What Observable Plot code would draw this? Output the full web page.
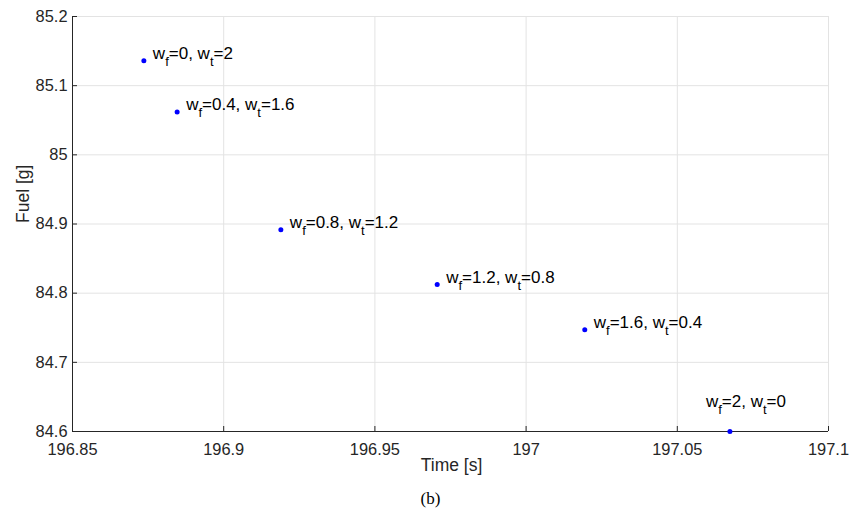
<!DOCTYPE html>
<html>
<head>
<meta charset="utf-8">
<script src="https://cdn.jsdelivr.net/npm/d3@7"></script>
<script src="https://cdn.jsdelivr.net/npm/@observablehq/plot@0.6"></script>
<style>
  html, body { margin: 0; padding: 0; background: #fff; }
  #chart { width: 862px; height: 512px; }
</style>
</head>
<body>
<div id="chart"></div>
<script>
// Data
const time = [196.8736, 196.8846, 196.9189, 196.9706, 197.0194, 197.0674];
const fuel = [85.136, 85.062, 84.8916, 84.8125, 84.747, 84.6];
const labels = ["w_f=0, w_t=2", "w_f=0.4, w_t=1.6", "w_f=0.8, w_t=1.2", "w_f=1.2, w_t=0.8", "w_f=1.6, w_t=0.4", "w_f=2, w_t=0"];
const xTicks = [196.85, 196.9, 196.95, 197, 197.05, 197.1];
const yTicks = [84.6, 84.7, 84.8, 84.9, 85, 85.1, 85.2];
const xLabel = "Time [s]";
const yLabel = "Fuel [g]";
const caption = "(b)";

const data = time.map((t, i) => ({time: t, fuel: fuel[i], label: labels[i], i}));

const axisColor = "#262626";
const gridColor = "#e3e3e3";
const fmt = d => String(+d.toFixed(2));

const plot = Plot.plot({
  width: 862,
  height: 512,
  marginLeft: 72,
  marginRight: 34,
  marginTop: 16,
  marginBottom: 81,
  style: {fontFamily: "'Liberation Sans', Arial, sans-serif", fontSize: "16px", color: axisColor, background: "#fff"},
  x: {domain: [196.85, 197.1]},
  y: {domain: [84.6, 85.2]},
  marks: [
    Plot.gridX(xTicks, {stroke: gridColor, strokeOpacity: 1}),
    Plot.gridY(yTicks, {stroke: gridColor, strokeOpacity: 1}),
    Plot.axisX(xTicks, {tickSize: 0, tickPadding: 12, tickFormat: fmt, label: null, fontSize: 16.4, fill: axisColor}),
    Plot.axisY(yTicks, {tickSize: 0, tickPadding: 5, tickFormat: fmt, label: null, fontSize: 16.4, fill: axisColor}),
    Plot.tickX(xTicks, {x: d => d, stroke: axisColor, insetTop: 410}),
    Plot.tickY(yTicks, {y: d => d, stroke: axisColor, insetRight: 751}),
    Plot.ruleX([196.85], {stroke: axisColor}),
    Plot.ruleY([84.6], {stroke: axisColor}),
    Plot.dot(data, {x: "time", y: "fuel", r: 2.5, fill: "#0000ff", stroke: null}),
    Plot.text(data.filter(d => d.i < 5), {x: "time", y: "fuel", text: "label", textAnchor: "start", dx: 9, dy: -7, fontSize: 17, fill: "#000"}),
    Plot.text(data.filter(d => d.i === 5), {x: "time", y: "fuel", text: "label", textAnchor: "start", dx: -24, dy: -30, fontSize: 17, fill: "#000"}),
    Plot.text([xLabel], {frameAnchor: "bottom", dy: 39, dx: 1, fontSize: 17.5, fill: axisColor}),
    Plot.text([yLabel], {frameAnchor: "left", dx: -49, dy: -1, rotate: -90, fontSize: 17.5, fill: axisColor}),
    Plot.text([caption], {frameAnchor: "bottom", dy: 72, dx: -20, fontSize: 17, fontFamily: "'Liberation Serif', 'Times New Roman', serif", fill: "#000"})
  ]
});

// Render "_x" as subscripts using tspans
plot.querySelectorAll("text").forEach(el => {
  const s = el.textContent;
  if (!s.includes("_")) return;
  const parts = s.split(/_(\w)/);
  while (el.firstChild) el.removeChild(el.firstChild);
  parts.forEach((p, k) => {
    const ts = document.createElementNS("http://www.w3.org/2000/svg", "tspan");
    ts.textContent = p;
    if (k % 2 === 1) {
      ts.setAttribute("dy", "7");
      ts.setAttribute("font-size", "13");
    } else if (k > 0) {
      ts.setAttribute("dy", "-7");
    }
    el.appendChild(ts);
  });
});

document.getElementById("chart").appendChild(plot);
</script>
</body>
</html>
